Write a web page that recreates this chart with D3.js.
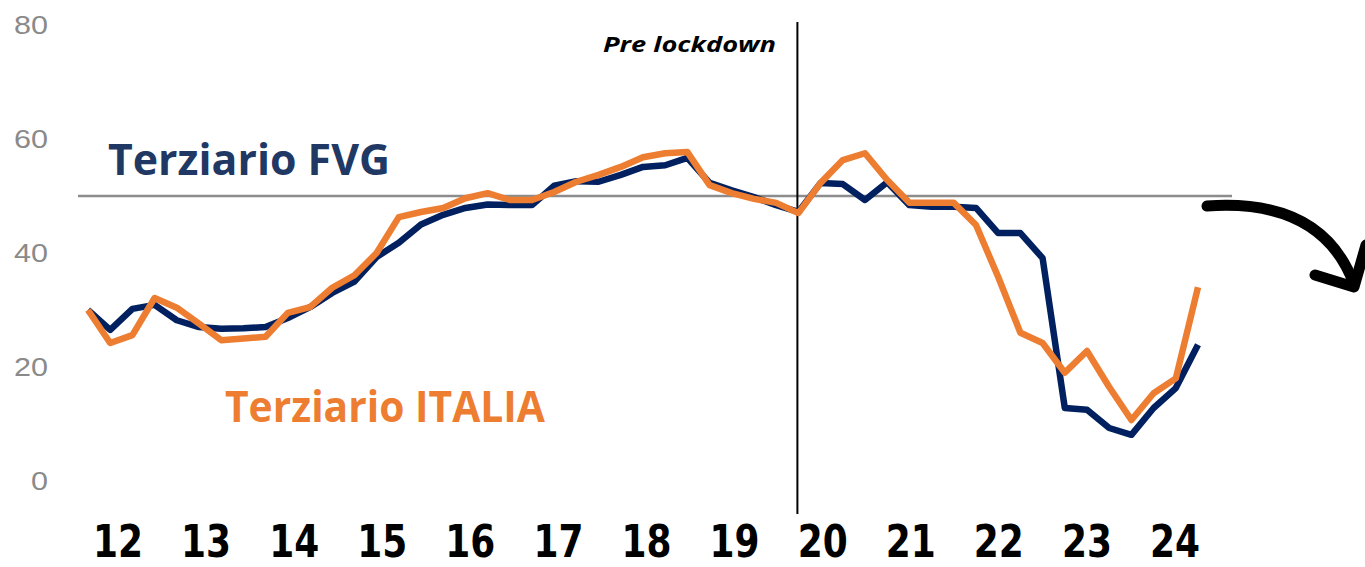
<!DOCTYPE html>
<html>
<head>
<meta charset="utf-8">
<script src="https://cdn.jsdelivr.net/npm/d3@7"></script>
<style>
  html, body { margin: 0; padding: 0; background: #fff; }
  svg { display: block; }
</style>
</head>
<body>
<div id="chart"></div>
<script>
// quarterly sentiment index, 2012Q1 .. 2024Q3
const fvg = [30, 26.5, 30.2, 30.9, 28.2, 27, 26.7, 26.8, 27, 28.6,
  30.5, 33, 35, 39.3, 41.8, 45, 46.7, 47.9, 48.5, 48.4,
  48.4, 51.8, 52.6, 52.5, 53.7, 55.1, 55.4, 56.7, 52.3, 51,
  49.8, 48.4, 47.2, 52.3, 52.1, 49.3, 52.4, 48.4, 48.1, 48.1,
  47.9, 43.5, 43.5, 39.1, 12.8, 12.5, 9.3, 8.1, 12.8, 16.3, 23.9]
const italia = [30, 24.2, 25.6, 32.1, 30.4, 27.6, 24.7, 25, 25.3, 29.5,
  30.5, 33.9, 36.1, 40, 46.3, 47.2, 47.9, 49.6, 50.5, 49.3,
  49.3, 50.7, 52.5, 53.7, 55.1, 56.8, 57.5, 57.7, 51.9, 50.5,
  49.5, 48.8, 47, 52.3, 56.3, 57.5, 52.8, 48.8, 48.8, 48.8,
  44.9, 35.8, 26, 24.2, 19, 22.8, 16.5, 10.7, 15.4, 18, 34]
const years = ['12', '13', '14', '15', '16', '17', '18', '19', '20', '21', '22', '23', '24']
const yTicks = [0, 20, 40, 60, 80]
const threshold = 50
const lockdownIdx = 32

const W = 1365, H = 567
const svg = d3.select('#chart').append('svg').attr('width', W).attr('height', H)

const x = d3.scaleLinear().domain([0, fvg.length - 1]).range([88, 1198])
const y = d3.scaleLinear().domain([0, 80]).range([481, 25])
const xYear = d3.scaleBand().domain(years).range([74, 1219]).padding(0)

// y axis labels
const yAxis = svg.append('g').attr('transform', 'translate(48,0)')
  .call(d3.axisLeft(y).tickValues(yTicks).tickSize(0).tickPadding(0))
yAxis.select('.domain').remove()
yAxis.selectAll('text')
  .attr('fill', '#8a8a8a')
  .style('font-family', '"Liberation Sans", sans-serif')
  .style('font-size', '25px')
  .attr('textLength', function () { return this.textContent.length * 17 })
  .attr('lengthAdjust', 'spacingAndGlyphs')

// x axis (years)
const xAxis = svg.append('g').attr('transform', 'translate(0,557)')
  .call(d3.axisBottom(xYear).tickSize(0).tickPadding(0))
xAxis.select('.domain').remove()
xAxis.selectAll('text')
  .attr('fill', '#000')
  .attr('y', 0)
  .attr('dy', 0)
  .style('font-family', '"Liberation Sans Narrow", "DejaVu Sans Condensed", sans-serif')
  .style('font-weight', 'bold')
  .style('font-size', '44px')
  .attr('textLength', 50)
  .attr('lengthAdjust', 'spacingAndGlyphs')

// 50 reference line
svg.append('line')
  .attr('x1', 78).attr('x2', 1232)
  .attr('y1', y(threshold)).attr('y2', y(threshold))
  .attr('stroke', '#8c8c8c').attr('stroke-width', 2.5)

// pre lockdown marker
svg.append('line')
  .attr('x1', x(lockdownIdx) - 1).attr('x2', x(lockdownIdx) - 1)
  .attr('y1', 22).attr('y2', 514)
  .attr('stroke', '#000').attr('stroke-width', 2)
svg.append('text')
  .attr('x', 776).attr('y', 52)
  .attr('text-anchor', 'end')
  .style('font-family', '"Open Sans", sans-serif')
  .style('font-weight', 'bold')
  .style('font-style', 'italic')
  .style('font-size', '22px')
  .attr('textLength', 173)
  .attr('lengthAdjust', 'spacingAndGlyphs')
  .text('Pre lockdown')

const line = d3.line().x((d, i) => x(i)).y(d => y(d))

svg.append('path').datum(fvg)
  .attr('d', line).attr('fill', 'none')
  .attr('stroke', '#002060').attr('stroke-width', 6.5)
  .attr('stroke-linejoin', 'round')

svg.append('path').datum(italia)
  .attr('d', line).attr('fill', 'none')
  .attr('stroke', '#ed7d31').attr('stroke-width', 6.5)
  .attr('stroke-linejoin', 'round')

// series labels
svg.append('text')
  .attr('x', 108).attr('y', 175)
  .attr('fill', '#1f3864')
  .style('font-family', '"Open Sans", sans-serif')
  .style('font-weight', 'bold')
  .style('font-size', '43px')
  .attr('textLength', 282)
  .attr('lengthAdjust', 'spacingAndGlyphs')
  .text('Terziario FVG')

svg.append('text')
  .attr('x', 225).attr('y', 422)
  .attr('fill', '#ed7d31')
  .style('font-family', '"Open Sans", sans-serif')
  .style('font-weight', 'bold')
  .style('font-size', '43px')
  .attr('textLength', 320)
  .attr('lengthAdjust', 'spacingAndGlyphs')
  .text('Terziario ITALIA')

// hand-drawn arrow
const arrow = svg.append('g')
  .attr('fill', 'none').attr('stroke', '#000')
  .attr('stroke-width', 11).attr('stroke-linecap', 'round').attr('stroke-linejoin', 'round')
arrow.append('path').attr('d', 'M1207,206 Q1322,198 1354,284')
arrow.append('path').attr('d', 'M1315,275 L1354,287 L1366,245')
</script>
</body>
</html>
